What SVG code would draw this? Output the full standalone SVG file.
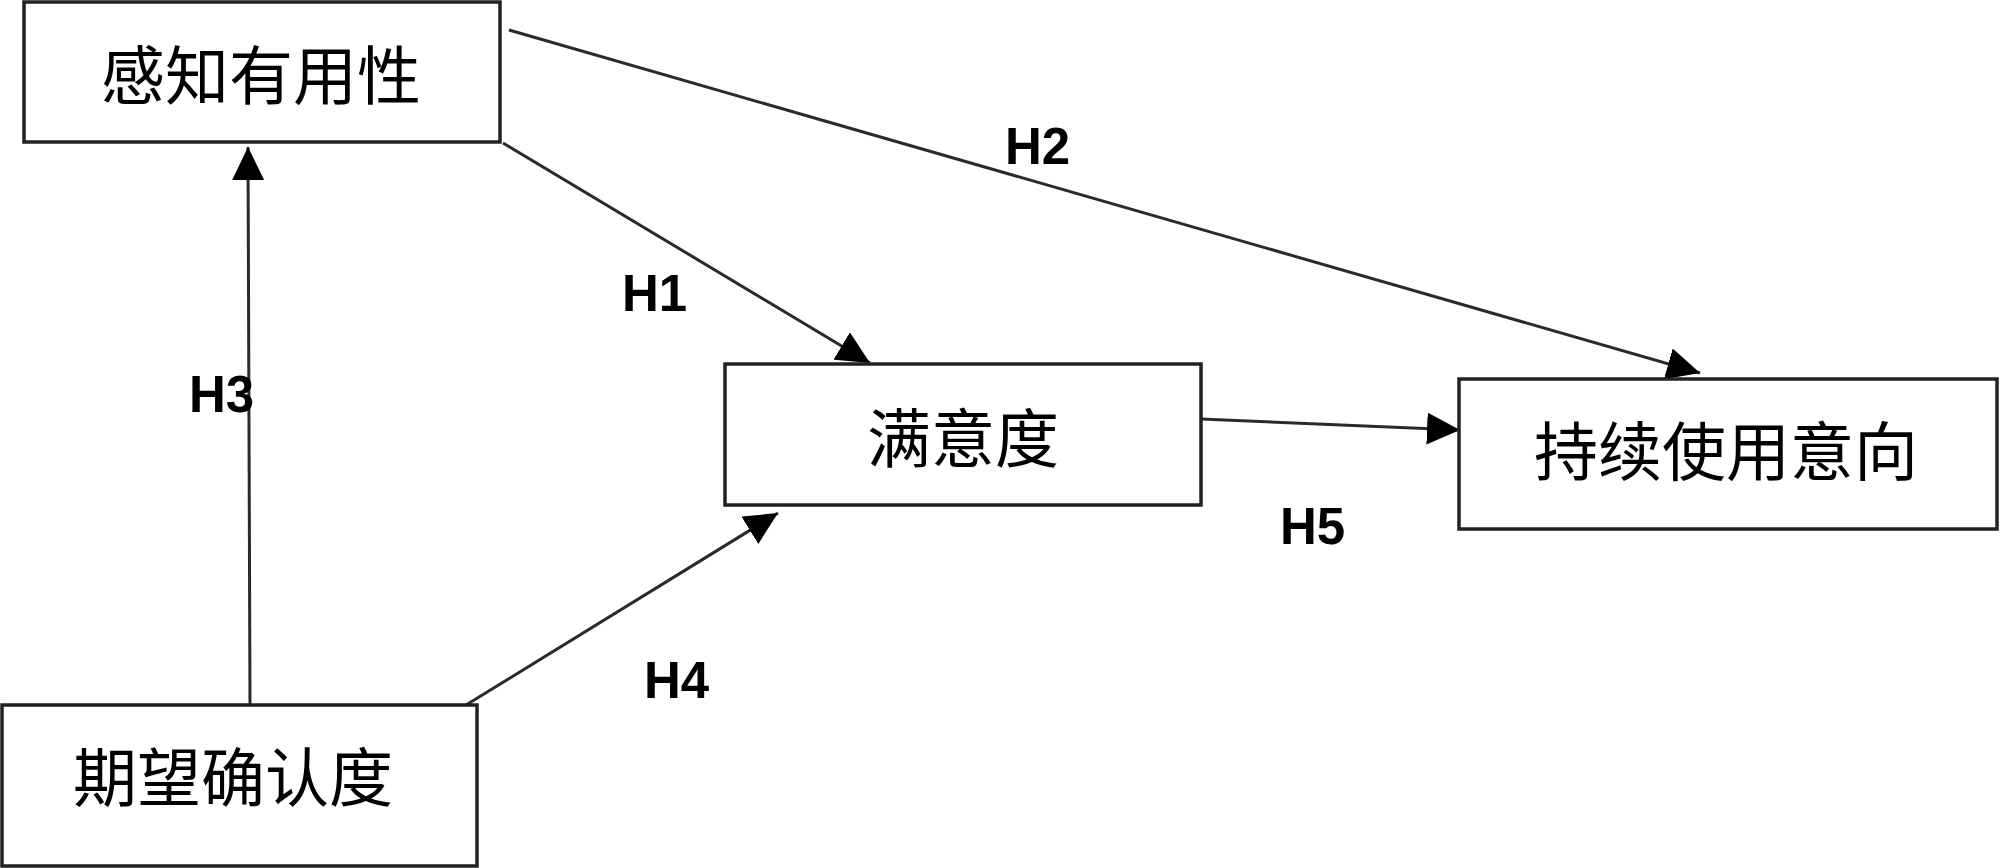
<svg xmlns="http://www.w3.org/2000/svg" width="2000" height="868" viewBox="0 0 2000 868">
<style>
.box{fill:#fff;stroke:#222;stroke-width:3.5}
.lbl{font-family:"Noto Sans CJK SC","Noto Sans CJK TC",sans-serif;font-size:64px;fill:#000;text-anchor:middle}
.h{font-family:"Liberation Sans",Arial,sans-serif;font-size:51px;font-weight:bold;fill:#000}
.edge{stroke:#2a2a2a;stroke-width:3;fill:none;marker-end:url(#ah)}
</style>
<defs>
<marker id="ah" markerUnits="userSpaceOnUse" markerWidth="34" markerHeight="32" refX="33" refY="16" orient="auto">
<path d="M0,0 L33,16 L0,32 z" fill="#000"/>
</marker>
</defs>
<g id="connectors">
<line class="edge" x1="250" y1="705" x2="248" y2="147"/>
<line class="edge" x1="503" y1="143" x2="870" y2="363"/>
<line class="edge" x1="509" y1="30" x2="1700" y2="373"/>
<line class="edge" x1="466" y1="705" x2="778" y2="513"/>
<line class="edge" x1="1201" y1="419" x2="1460" y2="430"/>
<text class="h" x="622" y="311">H1</text>
<text class="h" x="1005" y="164">H2</text>
<text class="h" x="189" y="412">H3</text>
<text class="h" x="644" y="698">H4</text>
<text class="h" x="1280" y="544">H5</text>
</g>
<g id="n-usefulness">
<rect class="box" x="24" y="2" width="476" height="140"/>
<text class="lbl" x="261" y="99">感知有用性</text>
</g>
<g id="n-confirmation">
<rect class="box" x="2" y="705" width="475" height="161"/>
<text class="lbl" x="233" y="801">期望确认度</text>
</g>
<g id="n-satisfaction">
<rect class="box" x="725" y="364" width="476" height="141"/>
<text class="lbl" x="963" y="462">满意度</text>
</g>
<g id="n-intention">
<rect class="box" x="1459" y="379" width="538" height="150"/>
<text class="lbl" x="1726" y="475">持续使用意向</text>
</g>
</svg>
